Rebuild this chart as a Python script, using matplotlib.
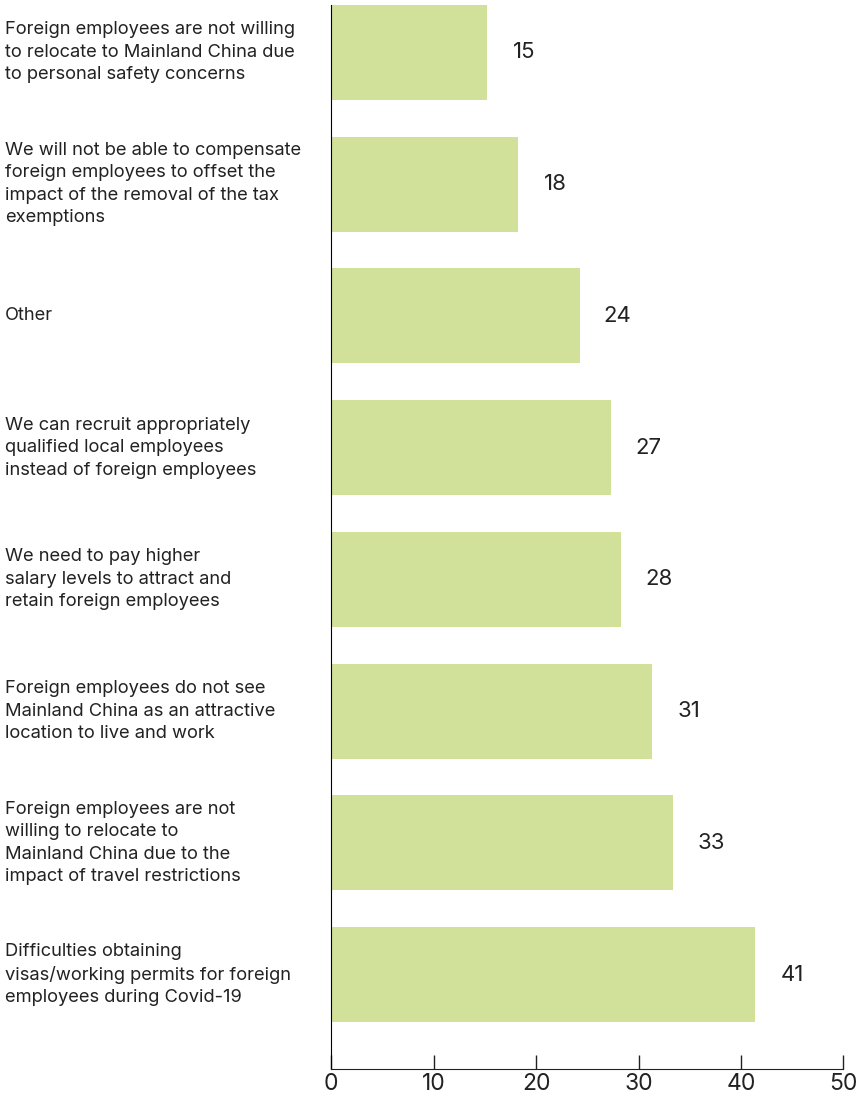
import matplotlib
matplotlib.use("Agg")
import matplotlib.pyplot as plt

labels = [
    "Foreign employees are not willing\nto relocate to Mainland China due\nto personal safety concerns",
    "We will not be able to compensate\nforeign employees to offset the\nimpact of the removal of the tax\nexemptions",
    "Other",
    "We can recruit appropriately\nqualified local employees\ninstead of foreign employees",
    "We need to pay higher\nsalary levels to attract and\nretain foreign employees",
    "Foreign employees do not see\nMainland China as an attractive\nlocation to live and work",
    "Foreign employees are not\nwilling to relocate to\nMainland China due to the\nimpact of travel restrictions",
    "Difficulties obtaining\nvisas/working permits for foreign\nemployees during Covid-19",
]
values = [15.2, 18.2, 24.3, 27.3, 28.3, 31.3, 33.4, 41.4]
value_labels = ["15", "18", "24", "27", "28", "31", "33", "41"]
xticks = [0, 10, 20, 30, 40, 50]

plt.rcParams['font.family'] = ['Inter', 'DejaVu Sans']
text_color = "#222222"

fig = plt.figure(figsize=(8.58, 10.97), dpi=100)
ax = fig.add_axes([0.3861, 0.0255, 0.983 - 0.3861, 0.9955 - 0.0255])

pos = list(range(len(values)))
ax.barh(pos, values, height=0.72, color="#d1e199")
ax.set_ylim(len(values) - 1 + 0.716, -0.36)
ax.set_xlim(0, 50)

# value labels right of bars
for p, v, t in zip(pos, values, value_labels):
    ax.annotate(t, (v, p), xytext=(27, 0), textcoords="offset points",
                va="center", ha="center", fontsize=16, color=text_color)

# category labels at left edge of figure
for p, lab in zip(pos, labels):
    y_fig = fig.transFigure.inverted().transform(ax.transData.transform((0, p)))[1]
    fig.text(5 / 858, y_fig, lab, ha="left", va="center", fontsize=13.2,
             color=text_color, linespacing=1.42)

ax.set_yticks([])
ax.set_xticks(xticks)
ax.tick_params(axis="x", direction="in", length=10, width=1, color=text_color,
               labelsize=16.5, labelcolor=text_color, pad=3)
ax.spines["top"].set_visible(False)
ax.spines["right"].set_visible(False)
ax.spines["left"].set_color("black")
ax.spines["bottom"].set_color(text_color)

fig.savefig("out.png", dpi=100)
